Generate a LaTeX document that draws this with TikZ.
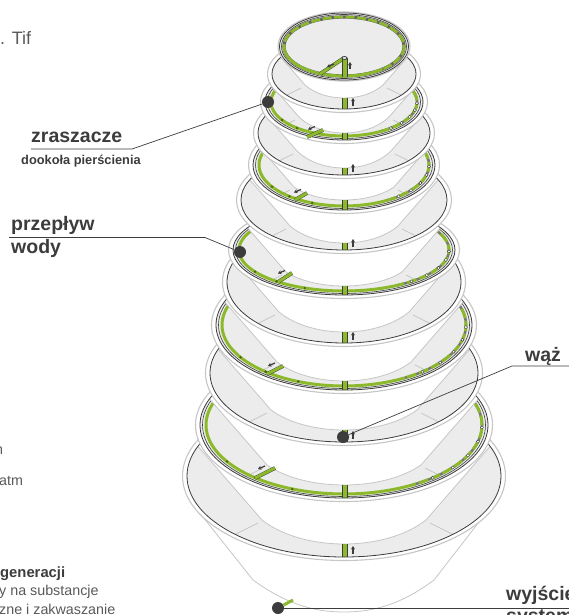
\documentclass[tikz,border=0pt]{standalone}
\usepackage{fontspec}
\setmainfont{Liberation Sans}
\usetikzlibrary{arrows.meta}
\definecolor{rurka}{HTML}{8CB82B}
\definecolor{talerz}{HTML}{EBECEB}
\definecolor{jasna}{HTML}{C6C6C6}
\definecolor{ciemna}{HTML}{3C3C3C}
\tikzset{
  edge/.style={ciemna, line width=0.8pt},
  rim/.style={jasna, line width=1.1pt, fill=white},
  cup/.style={jasna, line width=0.8pt, fill=white},
  tick/.style={jasna, line width=0.8pt},
  pipe/.style={rurka, line width=3pt},
  pipeback/.style={ciemna, line width=3.8pt},
  flow/.style={-{Stealth[length=3.4pt,width=4pt]}, ciemna, line width=1.2pt},
  dot/.style={circle, fill=ciemna, minimum size=12pt, inner sep=0pt},
  lead/.style={ciemna, line width=0.7pt},
  head/.style={anchor=base west, text=ciemna, font=\bfseries\fontsize{19.5}{20}\selectfont, inner sep=0pt},
  small/.style={anchor=base west, text=ciemna, font=\bfseries\fontsize{12.8}{13}\selectfont, inner sep=0pt},
  note/.style={anchor=base west, text=ciemna!85, font=\fontsize{14.3}{15}\selectfont, inner sep=0pt},
}
% cy, rx, ry, cup dx, cup dy, cup apex, parts under the cup
\newcommand{\tier}[7]{
  \draw[rim] (344,#1) ellipse [x radius=#2+4.5, y radius=#3+3.5];
  \begin{scope}
    \clip (344,#1) ellipse [x radius=#2, y radius=#3];
    \fill[talerz] (344,#1) ellipse [x radius=#2, y radius=#3];
    \draw[tick] ({344-#4-4},{#1+#5+3}) -- ++({-0.25*#2},{0.125*#2});
    \draw[tick] ({344+#4+4},{#1+#5+3}) -- ++({0.25*#2},{0.125*#2});
    #7
    \draw[cup] ({344-#4-0.6*#2},{#1+#5-0.69*#2}) -- ({344-#4},{#1+#5})
      .. controls ({344-0.5*#4},{#1+(4*#6-#5)/3}) and ({344+0.5*#4},{#1+(4*#6-#5)/3}) .. ({344+#4},{#1+#5})
      -- ({344+#4+0.6*#2},{#1+#5-0.69*#2}) -- cycle;
    \fill[rurka] (342,{#1+#6}) rectangle (347.5,{#1+#3+1});
    \draw[edge] (342,{#1+#6}) -- (342,{#1+#3+1}) (347.5,{#1+#6}) -- (347.5,{#1+#3+1});
  \end{scope}
  \draw[edge] (344,#1) ellipse [x radius=#2, y radius=#3];
}
% green ring with its sprinklers
\newcommand{\ringparts}[3]{
  \draw[ciemna, line width=0.6pt] (344,#1) ellipse [x radius=#2-2.5, y radius=#3-1.5];
  \draw[pipe] plot[domain=60:215, samples=70] ({344+(#2-6)*cos(\x)},{#1+(#3-4)*sin(\x)});
  \draw[ciemna!70, line width=2.6pt] plot[domain=-35:60, samples=50] ({344+(#2-6)*cos(\x)},{#1+(#3-4)*sin(\x)});
  \draw[pipe, dash pattern=on 10pt off 3pt] plot[domain=-35:60, samples=50] ({344+(#2-6)*cos(\x)},{#1+(#3-4)*sin(\x)});
  \foreach \a in {2,14,26,38,50}
    \fill[white, draw=ciemna, line width=0.4pt] ({344+(#2-6)*cos(\a)},{#1+(#3-4)*sin(\a)}) circle (1.6);
  \foreach \a in {112,130,148}
    \fill[rurka!55!black] ({344+(#2-6)*cos(\a)},{#1+(#3-4)*sin(\a)}) circle (1.4);
}
\newcommand{\ring}[6]{\tier{#1}{#2}{#3}{#4}{#5}{#6}{\ringparts{#1}{#2}{#3}}}
\newcommand{\plate}[6]{
  \tier{#1}{#2}{#3}{#4}{#5}{#6}{}
  \draw[flow] (353,{#1+#3-3}) -- (353,{#1+#3-11});
}
\newcommand{\stick}[4]{
  \draw[pipeback] (#1,#2) -- (#3,#4);
  \draw[pipe] (#1,#2) -- (#3,#4);
  \draw[flow] ({(#1+#3)/2},{(#2+#4)/2-7}) -- ++(-7,3);
}
\begin{document}
\begin{tikzpicture}[x=1pt, y=-1pt]
  \useasboundingbox (0,0) rectangle (569,615);
  % bottom bowl
  \draw[cup] (203,517) -- (253,580) .. controls (285,603) and (312,612) .. (344,612)
    .. controls (376,612) and (403,603) .. (434,580) -- (486,513) -- cycle;
  \coordinate (spoutend) at (293,600);
  \node[dot] (wyjscie) at (278,608) {};
  \draw[pipe] (wyjscie) -- (spoutend);
  % tiers, from the lowest one up
  \plate{476}{157}{81}{82}{44}{68}
  \ring{425}{144}{73}{77}{40}{60}
  \stick{255}{478}{275}{468}
  \plate{373}{134}{69}{73}{37}{57}
  \ring{325}{128}{65}{67}{37}{56}
  \stick{267}{374}{283}{366}
  \plate{282}{117}{61}{65}{30}{50}
  \ring{250}{111}{45}{58}{22}{36}
  \stick{278}{282}{292}{273}
  \plate{200}{103}{50}{54}{26}{43}
  \ring{165}{91}{45}{50}{22}{35}
  \stick{295}{200}{307}{193}
  \plate{133}{86}{42}{47}{18}{35}
  \ring{102}{79}{38}{45}{15}{31}
  \stick{307}{137}{323}{130}
  \plate{74}{72}{35}{39}{11}{24}
  % top ring
  \draw[rim] (344,46.5) ellipse [x radius=66, y radius=34.5];
  \draw[edge, fill=talerz] (344,46.5) ellipse [x radius=64.5, y radius=33.5];
  \draw[ciemna, line width=0.6pt] (344,46.5) ellipse [x radius=62.5, y radius=32];
  \draw[ciemna!80, line width=3.2pt] plot[domain=0:360, samples=90] ({344+60*cos(\x)},{46.5+29.5*sin(\x)});
  \draw[pipe, line width=2.6pt, dash pattern=on 9pt off 2.5pt] plot[domain=0:360, samples=90] ({344+60*cos(\x)},{46.5+29.5*sin(\x)});
  \draw[pipe, line width=2.6pt] plot[domain=50:180, samples=40] ({344+60*cos(\x)},{46.5+29.5*sin(\x)});
  \draw[pipeback] (320,74) -- (344,58);
  \draw[pipe] (320,74) -- (344,58);
  \fill[rurka] (342,58) rectangle (347,77);
  \draw[edge] (342,58) -- (342,77) (347,58) -- (347,77);
  \draw[edge, fill=talerz] (344.5,58) ellipse [x radius=2.5, y radius=1.5];
  \draw[flow] (350,69) -- (350,62);
  \draw[flow] (334,64) -- ++(-7,3);
  % labels
  \node[dot] (zraszacz) at (268,102) {};
  \node[dot] (przeplyw) at (240,252) {};
  \node[dot] (waz) at (343,437) {};
  \coordinate (zraszaczkol) at (132,149);
  \coordinate (zraszaczend) at (31,149);
  \coordinate (przeplywkol) at (205,237.5);
  \coordinate (przeplywend) at (9,237.5);
  \coordinate (wazkol) at (512,366);
  \coordinate (wazend) at (569,366);
  \coordinate (wyjscieend) at (569,608);
  \node[head] (zraszacze) at (31,142) {zraszacze};
  \node[small] (dookola) at (21,164) {dookoła pierścienia};
  \node[head] (przeplywtxt) at (11,230) {przepływ};
  \node[head] (wody) at (11,253) {wody};
  \node[head] (waztxt) at (525,361) {wąż};
  \node[head] (wyjscietxt) at (506,600) {wyjście};
  \node[head] (systemtxt) at (506,622) {systemu};
  \draw[lead] (zraszaczend) -- (zraszaczkol) -- (zraszacz);
  \draw[lead] (przeplywend) -- (przeplywkol) -- (przeplyw);
  \draw[lead] (wazend) -- (wazkol) -- (waz);
  \draw[lead] (wyjscie) -- (wyjscieend);
  \node[note, font=\fontsize{18}{19}\selectfont] (tif) at (0,45) {. Tif};
  \node[note] (enka) at (-5,454) {n};
  \node[note] (atm) at (-1,485) {atm};
  \node[anchor=base west, text=ciemna, font=\bfseries\fontsize{14.8}{15}\selectfont, inner sep=0pt] (generacji) at (0,577) {generacji};
  \node[note] (substancje) at (-1,595) {y na substancje};
  \node[note] (zakwaszanie) at (-1,614) {zne i zakwaszanie};
\end{tikzpicture}
\end{document}
